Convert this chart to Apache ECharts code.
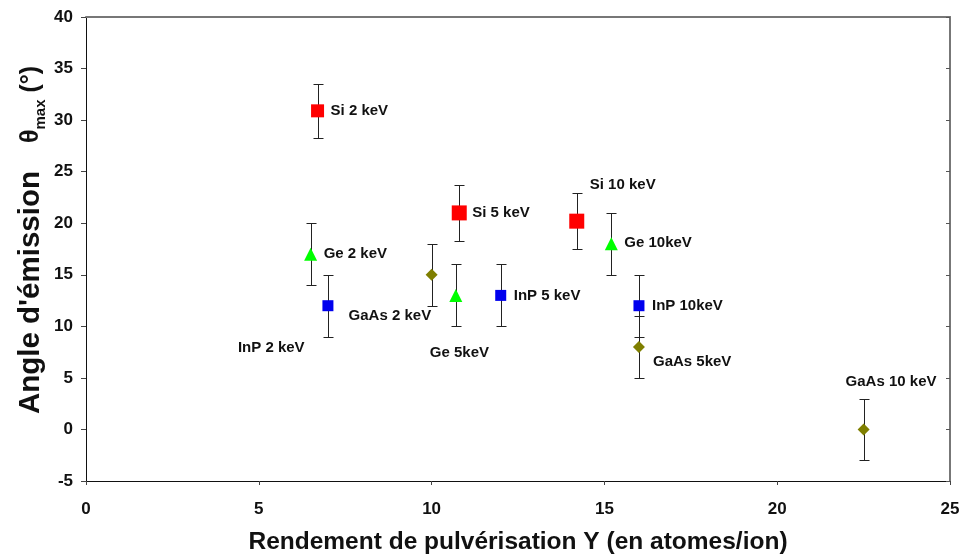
<!DOCTYPE html>
<html>
<head>
<meta charset="utf-8">
<script src="https://cdn.jsdelivr.net/npm/echarts@6/dist/echarts.min.js"></script>
<style>
  html, body { margin: 0; padding: 0; background: #fff; }
  #chart { width: 963px; height: 556px; }
</style>
</head>
<body>
<div id="chart"></div>
<script>
// Emission angle vs. sputtering yield, one point per target / ion energy
const pointNames = ['Si 2 keV', 'Si 5 keV', 'Si 10 keV',
                    'Ge 2 keV', 'Ge 5keV', 'Ge 10keV',
                    'InP 2 keV', 'InP 5 keV', 'InP 10keV',
                    'GaAs 2 keV', 'GaAs 5keV', 'GaAs 10 keV'];
const materials = ['Si', 'Si', 'Si',
                   'Ge', 'Ge', 'Ge',
                   'InP', 'InP', 'InP',
                   'GaAs', 'GaAs', 'GaAs'];
const sputterYield  = [6.7, 10.8, 14.2,  6.5, 10.7, 15.2,  7.0, 12.0, 16.0,  10.0, 16.0, 22.5];
const emissionAngle = [30.9, 21.0, 20.2, 17.0, 13.0, 18.0, 12.0, 13.0, 12.0,  15.0,  8.0,  0.0];
const angleError    = [2.6, 2.7, 2.7,    3.0, 3.0, 3.0,    3.0, 3.0, 3.0,     3.0, 3.0, 3.0];
const xTicks = [0, 5, 10, 15, 20, 25];
const yTicks = [-5, 0, 5, 10, 15, 20, 25, 30, 35, 40];

// label placement relative to the marker centre, in pixels
const labelOffsets = [[13, 0], [13, 0], [13, -36],
                      [13, 0], [-26, 57], [13, -1],
                      [-90, 42], [13, 0], [13, 0],
                      [-83, 41], [14, 15], [-18, -48]];

const markerStyle = {
  Si:   { symbol: 'rect',     color: '#ff0000', sizes: [13, 15, 15] },
  Ge:   { symbol: 'triangle', color: '#00ff00', sizes: [13, 13, 13] },
  InP:  { symbol: 'rect',     color: '#0000ee', sizes: [11, 11, 11] },
  GaAs: { symbol: 'diamond',  color: '#7f7f00', sizes: [12, 12, 12] }
};

const FONT = '"Liberation Sans", Arial, sans-serif';

const barSeries = {
  type: 'custom',
  z: 1,
  silent: true,
  encode: { x: 0, y: [1, 2] },
  data: sputterYield.map((x, i) => [x, emissionAngle[i] - angleError[i], emissionAngle[i] + angleError[i]]),
  renderItem: function (params, api) {
    const x = api.value(0);
    const lo = api.coord([x, api.value(1)]);
    const hi = api.coord([x, api.value(2)]);
    const cx = Math.round(lo[0]) + 0.5;
    const yl = Math.round(lo[1]) + 0.5;
    const yh = Math.round(hi[1]) + 0.5;
    const half = 5;
    const st = { stroke: '#222', lineWidth: 1 };
    return {
      type: 'group',
      children: [
        { type: 'line', shape: { x1: cx, y1: yh, x2: cx, y2: yl }, style: st },
        { type: 'line', shape: { x1: cx - half, y1: yh, x2: cx + half, y2: yh }, style: st },
        { type: 'line', shape: { x1: cx - half, y1: yl, x2: cx + half, y2: yl }, style: st }
      ]
    };
  }
};

const pointSeries = Object.keys(markerStyle).map(function (m) {
  const ms = markerStyle[m];
  const data = [];
  let k = 0;
  materials.forEach(function (mat, i) {
    if (mat !== m) return;
    data.push({
      value: [sputterYield[i], emissionAngle[i]],
      symbolSize: ms.sizes[k++],
      label: {
        show: true,
        formatter: pointNames[i],
        position: 'inside',
        align: 'left',
        verticalAlign: 'middle',
        offset: labelOffsets[i]
      }
    });
  });
  return {
    type: 'scatter',
    name: m,
    z: 3,
    symbol: ms.symbol,
    itemStyle: { color: ms.color, opacity: 1 },
    label: {
      color: '#111',
      fontFamily: FONT,
      fontWeight: 'bold',
      fontSize: 15
    },
    emphasis: { disabled: true },
    data: data
  };
});

const chart = echarts.init(document.getElementById('chart'), null, { renderer: 'canvas' });
chart.setOption({
  animation: false,
  backgroundColor: '#ffffff',
  grid: { left: 86, right: 13, top: 17, bottom: 75, containLabel: false, outerBoundsMode: 'none' },
  xAxis: [{
    type: 'value',
    min: xTicks[0], max: xTicks[xTicks.length - 1], interval: 5,
    name: 'Rendement de pulvérisation Y (en atomes/ion)',
    nameLocation: 'middle',
    nameGap: 49,
    nameMoveOverlap: false,
    nameTextStyle: { fontFamily: FONT, fontWeight: 'bold', fontSize: 24.5, color: '#111' },
    axisLine: { show: true, onZero: false, lineStyle: { color: '#111', width: 1 } },
    axisTick: { show: true, length: 4, lineStyle: { color: '#444' } },
    axisLabel: { margin: 20, fontFamily: FONT, fontWeight: 'bold', fontSize: 17, color: '#111' },
    splitLine: { show: false }
  }, {
    type: 'value', position: 'top',
    min: xTicks[0], max: xTicks[xTicks.length - 1], interval: 5,
    axisLine: { show: true, onZero: false, lineStyle: { color: '#777', width: 2 } },
    axisTick: { show: false }, axisLabel: { show: false }, splitLine: { show: false }
  }],
  yAxis: [{
    type: 'value',
    min: yTicks[0], max: yTicks[yTicks.length - 1], interval: 5,
    name: '{a|Angle d\'émission}{sp|}{t|θ}{s|max}{t| (°)}',
    nameLocation: 'middle',
    nameRotate: 90,
    nameGap: 38,
    nameMoveOverlap: false,
    nameTextStyle: {
      padding: [0, 0, 0, 18],
      rich: {
        a: { fontFamily: FONT, fontWeight: 'bold', fontSize: 29.5, color: '#111', lineHeight: 34 },
        sp: { width: 28 },
        t: { fontFamily: FONT, fontWeight: 'bold', fontSize: 25, color: '#111', lineHeight: 34 },
        s: { fontFamily: FONT, fontWeight: 'bold', fontSize: 15, color: '#111', verticalAlign: 'bottom', lineHeight: 26 }
      }
    },
    axisLine: { show: true, onZero: false, lineStyle: { color: '#111', width: 1 } },
    axisTick: { show: true, length: 5, lineStyle: { color: '#444' } },
    axisLabel: { margin: 13, fontFamily: FONT, fontWeight: 'bold', fontSize: 17, color: '#111' },
    splitLine: { show: false }
  }, {
    type: 'value', position: 'right',
    min: yTicks[0], max: yTicks[yTicks.length - 1], interval: 5,
    axisLine: { show: true, onZero: false, lineStyle: { color: '#777', width: 2 } },
    axisTick: { show: true, inside: true, length: 4, lineStyle: { color: '#555' } },
    axisLabel: { show: false }, splitLine: { show: false }
  }],
  series: [barSeries].concat(pointSeries)
});
</script>
</body>
</html>
